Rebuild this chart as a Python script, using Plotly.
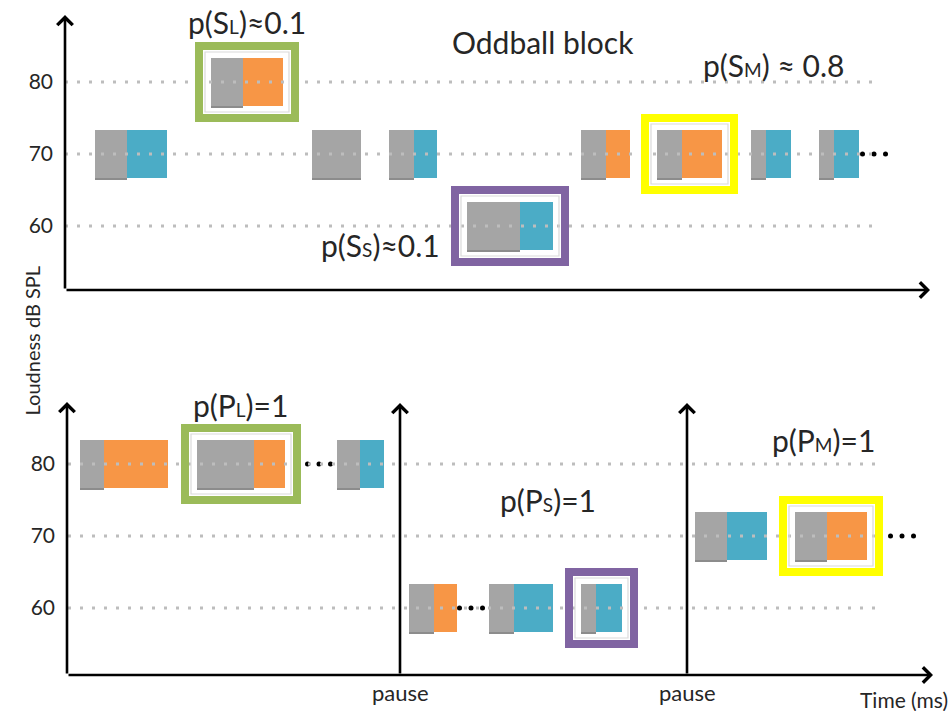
import plotly.graph_objects as go

# ------------------------------------------------------------------ data
levels = [60, 70, 80]                     # dB SPL
tick_labels = ["60", "70", "80"]

# Oddball block: onset, silent/gray part, tone part (time units), level, tone colour, frame
odd_onset = [95, 211, 312, 389, 467, 581, 657, 751, 819]
odd_gray = [32, 32, 49, 25, 53, 25, 25, 15, 15]
odd_tone = [40, 40, 0, 23, 33, 24, 40, 25, 25]
odd_level = [70, 80, 70, 70, 60, 70, 70, 70, 70]
odd_kind = ["blue", "orange", "none", "blue", "blue", "orange", "orange", "blue", "blue"]
odd_frame = ["", "green", "", "", "purple", "", "yellow", "", ""]

# Control sub-blocks
ctl_onset = [80, 197, 337, 409, 489, 581, 695, 795]
ctl_gray = [24, 57, 23, 25, 25, 15, 32, 32]
ctl_tone = [64, 31, 24, 23, 39, 26, 40, 40]
ctl_level = [80, 80, 80, 60, 60, 60, 70, 70]
ctl_kind = ["orange", "orange", "blue", "orange", "blue", "blue", "blue", "orange"]
ctl_frame = ["", "green", "", "", "", "purple", "", "yellow"]

odd_ellipsis_x = [874]
odd_ellipsis_level = [70]
ctl_ellipsis_x = [319, 471, 902]
ctl_ellipsis_level = [80, 60, 70]
pause_x = [400, 687]

# ------------------------------------------------------------------ style
W, H = 952, 711
PX_DB = 7.2                               # pixels per dB
FONT = "Lato"
TXT = "#262626"
COL = {"gray": "#a5a5a5", "shadow": "#8c8c8c", "orange": "#f79646", "blue": "#4bacc6",
       "green": "#9bbb59", "purple": "#8064a2", "yellow": "#ffff00", "dots": "#bdbdbd"}


def yrange(domain, px80):
    top_px = H * (1 - domain[1])
    bot_px = H * (1 - domain[0])
    return [80 - (bot_px - px80) / PX_DB, 80 + (px80 - top_px) / PX_DB]


split = 0.5
dom_top, dom_bot = [split, 1.0], [0.0, split]
rng_top = yrange(dom_top, 82)
rng_bot = yrange(dom_bot, 464)


def db(px):
    return px / PX_DB


fig = go.Figure()
rects, grid, frames = [], [], []


def add_block(xr, yr, onset, gray, tone, level, kind, frame):
    for o, g, t, lv, k, f in zip(onset, gray, tone, level, kind, frame):
        h = db(24)
        rects.append(dict(type="rect", xref=xr, yref=yr, x0=o, x1=o + g, y0=lv - h, y1=lv + h,
                          fillcolor=COL["gray"], line=dict(width=0), layer="above"))
        rects.append(dict(type="line", xref=xr, yref=yr, x0=o, x1=o + g, y0=lv - h - db(1),
                          y1=lv - h - db(1), line=dict(color=COL["shadow"], width=2), layer="above"))
        if t > 0:
            rects.append(dict(type="rect", xref=xr, yref=yr, x0=o + g, x1=o + g + t,
                              y0=lv - h, y1=lv + h, fillcolor=COL[k], line=dict(width=0),
                              layer="above"))
        if f:
            frames.append(dict(type="rect", xref=xr, yref=yr, x0=o - 6, x1=o + g + t + 6,
                               y0=lv - db(30), y1=lv + db(30),
                               line=dict(color="#dadada", width=1.2), layer="above"))
            frames.append(dict(type="rect", xref=xr, yref=yr, x0=o - 12, x1=o + g + t + 12,
                               y0=lv - db(36), y1=lv + db(36),
                               line=dict(color=COL[f], width=8), layer="above"))


add_block("x", "y", odd_onset, odd_gray, odd_tone, odd_level, odd_kind, odd_frame)
add_block("x2", "y2", ctl_onset, ctl_gray, ctl_tone, ctl_level, ctl_kind, ctl_frame)

for lv in levels:
    grid.append(dict(type="line", xref="x", yref="y", x0=65, x1=873, y0=lv, y1=lv,
                     line=dict(color=COL["dots"], width=3, dash="3px,9px"), layer="above"))
    grid.append(dict(type="line", xref="x2", yref="y2", x0=68, x1=877, y0=lv, y1=lv,
                     line=dict(color=COL["dots"], width=3, dash="3px,9px"), layer="above"))

fig.update_layout(shapes=rects + grid + frames)


def ell(xs, lvs):
    X, Y = [], []
    for x, lv in zip(xs, lvs):
        for d in (-11.5, 0, 11.5):
            X.append(x + d)
            Y.append(lv)
    return X, Y


ex, ey = ell(odd_ellipsis_x, odd_ellipsis_level)
fig.add_trace(go.Scatter(x=ex, y=ey, mode="markers", marker=dict(color="black", size=5),
                         xaxis="x", yaxis="y", hoverinfo="skip", showlegend=False))
ex, ey = ell(ctl_ellipsis_x, ctl_ellipsis_level)
fig.add_trace(go.Scatter(x=ex, y=ey, mode="markers", marker=dict(color="black", size=5),
                         xaxis="x2", yaxis="y2", hoverinfo="skip", showlegend=False))

ann = []


def arrow(xr, yr, x0, y0, x1, y1):
    ann.append(dict(xref=xr, yref=yr, axref=xr, ayref=yr, x=x1, y=y1, ax=x0, ay=y0, text="",
                    showarrow=True, arrowhead=4, arrowsize=1.15, arrowwidth=2.6,
                    arrowcolor="black", standoff=0, startstandoff=0))


top_base = 80 - db(290 - 82)
bot_base = 80 - db(675 - 464)
arrow("x", "y", 65, top_base, 65, 80 + db(82 - 15))
arrow("x", "y", 65, top_base, 930, top_base)
arrow("x2", "y2", 67, bot_base, 67, 80 + db(464 - 402))
arrow("x2", "y2", 67, bot_base, 933, bot_base)
for px in pause_x:
    arrow("x2", "y2", px, bot_base, px, 80 + db(464 - 403))


def text(xr, yr, x, y, s, size=30, **kw):
    d = dict(xref=xr, yref=yr, x=x, y=y, text=s, showarrow=False,
             font=dict(family=FONT, size=size, color=TXT))
    d.update(kw)
    ann.append(d)


SUB = "<span style='font-size:19px'>%s</span>"
text("x", "y", 543, 80 + db(82 - 42), "Oddball block")
text("x", "y", 247, 80 + db(82 - 22), "p(S" + SUB % "L" + ")≈0.1")
text("x", "y", 773, 80 + db(82 - 65), "p(S" + SUB % "M" + ") ≈ 0.8")
text("x", "y", 380, 80 - db(245 - 82), "p(S" + SUB % "S" + ")≈0.1")
text("x2", "y2", 478, 80 + db(464 - 346), "Control sub-blocks")
text("x2", "y2", 240, 80 + db(464 - 405), "p(P" + SUB % "L" + ")=1")
text("x2", "y2", 548, 80 + db(464 - 500), "p(P" + SUB % "S" + ")=1")
text("x2", "y2", 823, 80 + db(464 - 440), "p(P" + SUB % "M" + ")=1")
for px in pause_x:
    text("x2", "y2", px, 80 - db(692 - 464), "pause", size=22)
text("x2", "y2", 950, 80 - db(699 - 464), "Time (ms)", size=21, xanchor="right")
ann.append(dict(xref="paper", yref="paper", x=17.5 / W, y=1 - 341 / H,
                text="Loudness dB SPL", textangle=-90, showarrow=False,
                font=dict(family=FONT, size=20, color=TXT)))

fig.update_layout(annotations=ann)

axis_common = dict(showgrid=False, zeroline=False, showline=False, ticks="",
                   tickvals=levels, ticktext=tick_labels, ticklabelstandoff=12,
                   tickfont=dict(family=FONT, size=21, color=TXT), anchor="free")
fig.update_layout(
    width=W, height=H, margin=dict(l=0, r=0, t=0, b=0),
    paper_bgcolor="white", plot_bgcolor="white",
    xaxis=dict(domain=[0, 1], range=[0, W], visible=False, anchor="y"),
    xaxis2=dict(domain=[0, 1], range=[0, W], visible=False, anchor="y2"),
    yaxis=dict(domain=dom_top, range=rng_top, position=65 / W, **axis_common),
    yaxis2=dict(domain=dom_bot, range=rng_bot, position=67 / W, **axis_common),
    showlegend=False,
)

fig.write_html("out.html", config={"displayModeBar": False},
               post_script="document.body.style.margin='0';document.body.style.overflow='hidden';")
